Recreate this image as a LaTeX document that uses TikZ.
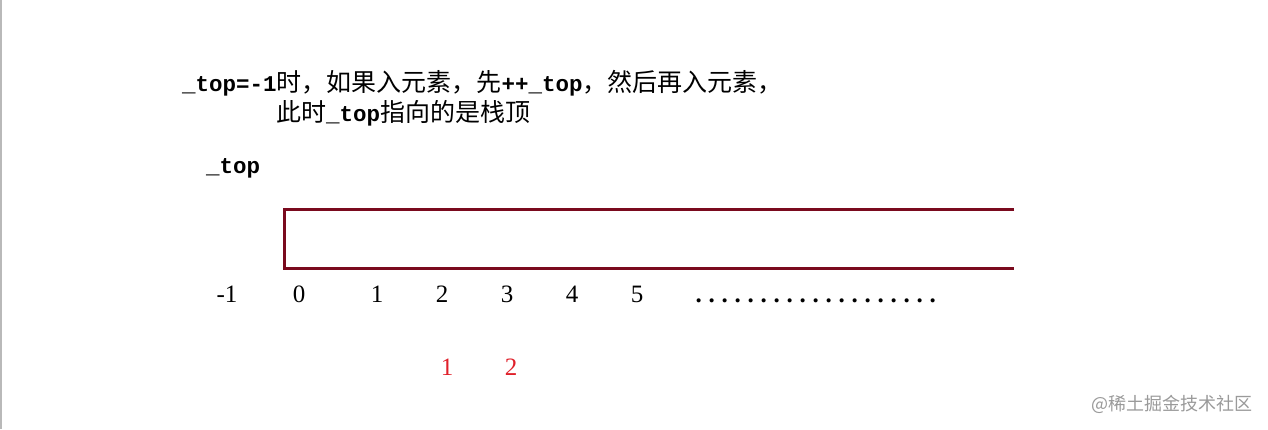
\documentclass[tikz,border=0pt]{standalone}
\usepackage{fontspec}
\setmainfont{Liberation Serif}
\newfontfamily\cjk{Noto Sans CJK SC}
\newfontfamily\lat{Liberation Mono}
\definecolor{boxred}{HTML}{7A0A1E}
\definecolor{numred}{HTML}{E0202A}
\definecolor{wmgray}{HTML}{9A9A9A}
\newcommand{\cj}[1]{{\cjk\fontsize{25}{29}\selectfont #1}}
\newcommand{\lt}[1]{{\lat\bfseries\fontsize{22.5}{27}\selectfont #1}}
\begin{document}
\begin{tikzpicture}[x=1pt,y=-1pt,
  txt/.style={inner sep=0pt,anchor=base west},
  num/.style={inner sep=0pt,anchor=base,font=\fontsize{25}{29}\selectfont},
  rednum/.style={num,text=numred},
  arr/.style={draw=boxred,line width=3pt}]
\useasboundingbox (0,0) rectangle (1268,429);
\fill[white] (0,0) rectangle (1268,429);
\draw[gray!55,line width=1.5pt] (0.75,0) -- (0.75,429);
% heading text
\node[txt] (l1) at (182,91) {\lt{\_top=-1}\cj{时，如果入元素，先}\lt{++\_top}\cj{，然后再入元素，}};
\node[txt] (l2) at (276,121) {\cj{此时}\lt{\_top}\cj{指向的是栈顶}};
\node[txt] (top) at (206,173) {\lt{\_top}};
% array box (open on the right)
\coordinate (bTR) at (1014,209.5);
\coordinate (bTL) at (284.5,209.5);
\coordinate (bBL) at (284.5,268.5);
\coordinate (bBR) at (1014,268.5);
\draw[arr] (bTR) -- (bTL) -- (bBL) -- (bBR);
% indices
\node[num] (im1) at (227,302) {-1};
\node[num] (i0) at (299,302) {0};
\node[num] (i1) at (377,302) {1};
\node[num] (i2) at (442,302) {2};
\node[num] (i3) at (507,302) {3};
\node[num] (i4) at (572,302) {4};
\node[num] (i5) at (637,302) {5};
\node[txt] (dots) at (692,302) {\bfseries\fontsize{25}{29}\selectfont\foreach \k in {1,...,19}{\makebox[13pt]{.}}};
% red numbers
\node[rednum] (r1) at (447,375) {1};
\node[rednum] (r2) at (511,375) {2};
% watermark
\node[inner sep=0pt,anchor=west,text=wmgray] (wm) at (1091,404) {\cjk\fontsize{18}{20}\selectfont @稀土掘金技术社区};
\end{tikzpicture}
\end{document}
